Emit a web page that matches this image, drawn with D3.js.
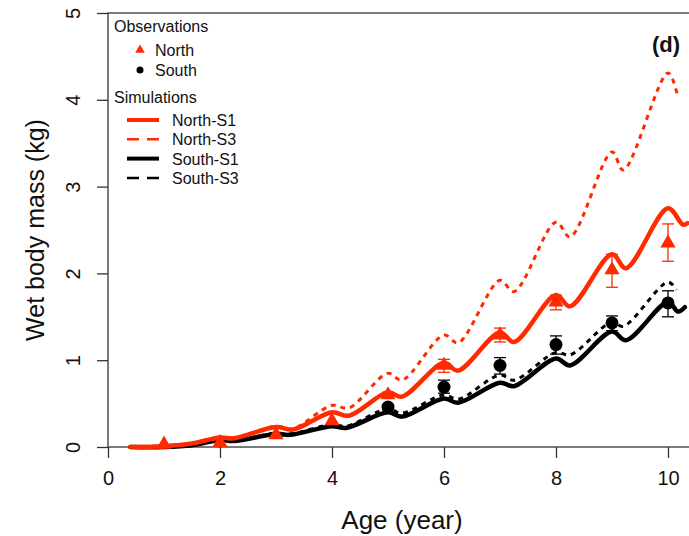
<!DOCTYPE html>
<html>
<head>
<meta charset="utf-8">
<script src="https://cdn.jsdelivr.net/npm/d3@7"></script>
<style>
  body { margin: 0; background: #fff; }
  svg { display: block; font-family: "Liberation Sans", Arial, sans-serif; }
</style>
</head>
<body>
<div id="chart"></div>
<script>
// observations (age in years, wet mass in kg, error bar low / high)
const obsNorthAge = [1, 2, 3, 4, 5, 6, 7, 8, 9, 10];
const obsNorth    = [0.03, 0.05, 0.14, 0.30, 0.60, 0.94, 1.29, 1.67, 2.04, 2.35];
const obsNorthLo  = [0.02, 0.04, 0.12, 0.28, 0.57, 0.86, 1.21, 1.58, 1.84, 2.14];
const obsNorthHi  = [0.04, 0.06, 0.16, 0.32, 0.63, 1.01, 1.37, 1.75, 2.22, 2.57];

const obsSouthAge = [5, 6, 7, 8, 9, 10];
const obsSouth    = [0.46, 0.69, 0.94, 1.18, 1.43, 1.66];
const obsSouthLo  = [0.43, 0.62, 0.84, 1.07, 1.34, 1.50];
const obsSouthHi  = [0.49, 0.77, 1.03, 1.28, 1.51, 1.80];

// simulations
const northS1Age = [0.4, 1, 1.5, 2, 2.25, 3, 3.3, 4, 4.3, 5, 5.25, 6, 6.25, 7, 7.25, 8, 8.25, 9, 9.25, 10, 10.27, 10.35];
const northS1    = [0, 0.01, 0.04, 0.11, 0.10, 0.23, 0.20, 0.40, 0.36, 0.63, 0.58, 0.97, 0.88, 1.32, 1.21, 1.75, 1.62, 2.22, 2.06, 2.75, 2.56, 2.58];

const northS3Age = [0.4, 1, 1.5, 2, 2.25, 3, 3.3, 4, 4.3, 5, 5.25, 6, 6.25, 7, 7.25, 8, 8.25, 9, 9.2, 10, 10.18];
const northS3    = [0, 0.01, 0.04, 0.11, 0.10, 0.24, 0.21, 0.48, 0.45, 0.85, 0.77, 1.29, 1.20, 1.92, 1.79, 2.59, 2.42, 3.40, 3.19, 4.31, 4.02];

const southS1Age = [0.4, 1, 1.5, 2, 2.25, 3, 3.25, 4, 4.25, 5, 5.25, 6, 6.25, 7, 7.25, 8, 8.25, 9, 9.25, 10, 10.18, 10.3];
const southS1    = [0, 0, 0.02, 0.08, 0.07, 0.15, 0.14, 0.24, 0.22, 0.40, 0.35, 0.56, 0.51, 0.74, 0.70, 1.02, 0.94, 1.33, 1.23, 1.67, 1.56, 1.61];

const southS3Age = [0.4, 1, 1.5, 2, 2.25, 3, 3.25, 4, 4.25, 5, 5.25, 6, 6.25, 7, 7.25, 8, 8.25, 9, 9.2, 10, 10.15];
const southS3    = [0, 0, 0.02, 0.08, 0.07, 0.16, 0.15, 0.26, 0.24, 0.44, 0.39, 0.60, 0.55, 0.83, 0.77, 1.09, 1.06, 1.44, 1.39, 1.90, 1.81];

const xTicks = [0, 2, 4, 6, 8, 10];
const yTicks = [0, 1, 2, 3, 4, 5];

const RED = "#ff2a00";

const W = 689, H = 536;
const margin = {top: 13, left: 108, bottom: 89};

const svg = d3.select("#chart").append("svg")
    .attr("width", W)
    .attr("height", H);

const x = d3.scaleLinear().domain([0, 10.5]).range([margin.left, margin.left + 10.5 * 56]);
const y = d3.scaleLinear().domain([0, 5]).range([H - margin.bottom, margin.top]);

// plot box (right edge falls outside the picture)
svg.append("rect")
    .attr("x", x(0)).attr("y", y(5))
    .attr("width", x(10.5) - x(0)).attr("height", y(0) - y(5))
    .attr("fill", "none").attr("stroke", "#333").attr("stroke-width", 1.3);

// axes
const axisX = svg.append("g")
    .attr("transform", `translate(0,${y(0)})`)
    .call(d3.axisBottom(x).tickValues(xTicks).tickSize(11).tickFormat(d3.format("d")));
const axisY = svg.append("g")
    .attr("transform", `translate(${x(0)},0)`)
    .call(d3.axisLeft(y).tickValues(yTicks).tickSize(11).tickFormat(d3.format("d")));

[axisX, axisY].forEach(a => {
  a.select(".domain").remove();
  a.selectAll(".tick line").attr("stroke", "#333").attr("stroke-width", 1.3);
  a.selectAll("text").attr("fill", "#111").style("font-size", "20px")
      .style("font-family", "'Liberation Sans', Arial, sans-serif");
});
axisX.selectAll("text").attr("y", 24).attr("dy", "0.71em");
axisY.selectAll("text")
    .attr("x", 0).attr("y", 0)
    .attr("text-anchor", "middle")
    .attr("transform", "translate(-35,0) rotate(-90)")
    .attr("dy", "0.35em");

// axis titles
svg.append("text")
    .attr("x", (x(0) + x(10.5)) / 2).attr("y", 529)
    .attr("text-anchor", "middle")
    .style("font-size", "26px").attr("fill", "#111")
    .text("Age (year)");
svg.append("text")
    .attr("transform", `translate(44,${(y(0) + y(5)) / 2}) rotate(-90)`)
    .attr("text-anchor", "middle")
    .style("font-size", "25px").attr("fill", "#111")
    .text("Wet body mass (kg)");

svg.append("text")
    .attr("x", 680).attr("y", 52)
    .attr("text-anchor", "end")
    .style("font-size", "22px").style("font-weight", "bold").attr("fill", "#111")
    .text("(d)");

// simulation lines
const line = d3.line()
    .x(d => x(d[0]))
    .y(d => y(d[1]))
    .curve(d3.curveCatmullRom.alpha(0.5));

const sims = [
  {age: southS1Age, val: southS1, color: "#000", dash: null, w: 4.5},
  {age: southS3Age, val: southS3, color: "#000", dash: "5,5", w: 3},
  {age: northS1Age, val: northS1, color: RED, dash: null, w: 4.5},
  {age: northS3Age, val: northS3, color: RED, dash: "5,5", w: 3}
];

svg.append("g").selectAll("path")
    .data(sims)
    .join("path")
    .attr("d", s => line(d3.zip(s.age, s.val)))
    .attr("fill", "none")
    .attr("stroke", s => s.color)
    .attr("stroke-width", s => s.w)
    .attr("stroke-dasharray", s => s.dash)
    .attr("stroke-linejoin", "round")
    .attr("stroke-linecap", s => s.dash ? "butt" : "round");

// error bars
function errorBars(ages, lo, hi, color) {
  const g = svg.append("g").attr("stroke", color).attr("stroke-width", 1.3);
  ages.forEach((a, i) => {
    if (y(lo[i]) - y(hi[i]) < 4) return;
    g.append("line").attr("x1", x(a)).attr("x2", x(a)).attr("y1", y(lo[i])).attr("y2", y(hi[i]));
    g.append("line").attr("x1", x(a) - 6).attr("x2", x(a) + 6).attr("y1", y(lo[i])).attr("y2", y(lo[i]));
    g.append("line").attr("x1", x(a) - 6).attr("x2", x(a) + 6).attr("y1", y(hi[i])).attr("y2", y(hi[i]));
  });
}
errorBars(obsSouthAge, obsSouthLo, obsSouthHi, "#000");
errorBars(obsNorthAge, obsNorthLo, obsNorthHi, RED);

const tri = d3.symbol().type(d3.symbolTriangle).size(100);

svg.append("g").selectAll("circle")
    .data(d3.zip(obsSouthAge, obsSouth))
    .join("circle")
    .attr("cx", d => x(d[0])).attr("cy", d => y(d[1]))
    .attr("r", 6.5).attr("fill", "#000");

svg.append("g").selectAll("path")
    .data(d3.zip(obsNorthAge, obsNorth))
    .join("path")
    .attr("d", tri)
    .attr("transform", d => `translate(${x(d[0])},${y(d[1])})`)
    .attr("fill", RED);

// legend
const leg = svg.append("g").style("font-size", "16px").attr("fill", "#111");
leg.append("text").attr("x", 114).attr("y", 32).text("Observations");
leg.append("path").attr("d", d3.symbol().type(d3.symbolTriangle).size(40))
    .attr("transform", "translate(140,50)").attr("fill", RED);
leg.append("text").attr("x", 155).attr("y", 56).text("North");
leg.append("circle").attr("cx", 140).attr("cy", 70).attr("r", 3.5).attr("fill", "#000");
leg.append("text").attr("x", 155).attr("y", 76).text("South");
leg.append("text").attr("x", 114).attr("y", 103).text("Simulations");

const legSims = [
  {name: "North-S1", color: RED, dash: null, w: 4},
  {name: "North-S3", color: RED, dash: "12,8", w: 2.5},
  {name: "South-S1", color: "#000", dash: null, w: 4},
  {name: "South-S3", color: "#000", dash: "12,8", w: 2.5}
];
legSims.forEach((s, i) => {
  const yy = 120 + i * 19.3;
  leg.append("line").attr("x1", 127).attr("x2", 159).attr("y1", yy).attr("y2", yy)
      .attr("stroke", s.color).attr("stroke-width", s.w).attr("stroke-dasharray", s.dash);
  leg.append("text").attr("x", 172).attr("y", yy + 6).text(s.name);
});
</script>
</body>
</html>
